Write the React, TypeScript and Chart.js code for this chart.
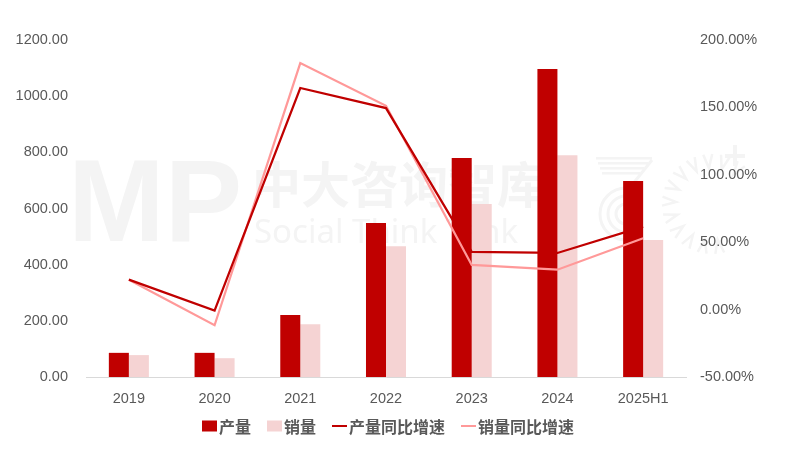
import React, { useEffect, useRef } from 'react';
import { Chart, registerables } from 'chart.js';

Chart.register(...registerables);

const categories = ['2019', '2020', '2021', '2022', '2023', '2024', '2025H1'];
const production = [86, 86, 221, 548, 780, 1097, 698];
const sales = [78, 67, 188, 466, 616, 790, 488];
const productionYoY = [22.2, -0.8, 164.4, 149.5, 42.9, 42.0, 61.5];
const salesYoY = [22.2, -11.6, 182.9, 151.2, 33.1, 29.6, 52.9];
const seriesNames = ['产量', '销量', '产量同比增速', '销量同比增速'];
const leftAxisRange = [0, 1200, 200];
const rightAxisRange = [-50, 200, 50];

const DARK = '#C00000';
const LIGHT = '#F5D3D3';
const PINK = '#FF9999';
const TEXT = '#595959';
const WM = '#F4F4F4';

const watermarkPlugin = {
  id: 'watermark',
  beforeDraw(chart: any) {
    const ctx = chart.ctx;
    ctx.save();
    ctx.fillStyle = WM;
    ctx.textBaseline = 'alphabetic';
    ctx.font = 'bold 116px "Liberation Sans", sans-serif';
    ctx.fillText('MP', 68, 241);
    ctx.font = 'bold 49px "Noto Sans CJK SC"';
    ctx.fillText('中大咨询智库', 252, 203);
    ctx.font = '33px "Noto Sans", sans-serif';
    ctx.fillText('Social Think Tank', 254, 243);
    ctx.fillRect(571, 160, 2, 83);
    for (let i = 0; i < 4; i++) {
      ctx.fillRect(596 + i * 2, 157 + i * 5, 56 - i * 6, 2.5);
    }
    ctx.strokeStyle = WM;
    ctx.lineWidth = 3;
    ctx.beginPath();
    ctx.moveTo(652, 160);
    ctx.lineTo(628, 190);
    ctx.stroke();
    for (const r of [10, 18, 26]) {
      ctx.beginPath();
      ctx.arc(626, 214, r, Math.PI * 0.5, Math.PI * 1.5, false);
      ctx.stroke();
    }
    ctx.lineWidth = 2.5;
    const cx = 712;
    const cy = 204;
    for (let i = 0; i < 12; i++) {
      const a = Math.PI * 0.45 + (i * Math.PI * 1.25) / 11;
      const r1 = 36;
      const r2 = 50;
      const da = 0.09;
      ctx.beginPath();
      ctx.moveTo(cx + Math.cos(a - da) * r2, cy + Math.sin(a - da) * r2);
      ctx.lineTo(cx + Math.cos(a) * r1, cy + Math.sin(a) * r1);
      ctx.lineTo(cx + Math.cos(a + da) * r2, cy + Math.sin(a + da) * r2);
      ctx.stroke();
    }
    ctx.lineWidth = 4;
    ctx.beginPath();
    ctx.moveTo(735, 145);
    ctx.lineTo(735, 166);
    ctx.moveTo(725, 156);
    ctx.lineTo(745, 156);
    ctx.stroke();
    ctx.restore();
  },
};

const legendPlugin = {
  id: 'customLegend',
  afterDraw(chart: any) {
    const ctx = chart.ctx;
    ctx.save();
    ctx.font = 'bold 16px "Noto Sans CJK SC", sans-serif';
    ctx.textBaseline = 'middle';
    const dsets = chart.data.datasets;
    const boxW = 15;
    const gapBox = 2;
    const gapItem = 16;
    const widths = dsets.map((d: any) => boxW + gapBox + ctx.measureText(d.label).width);
    const total = widths.reduce((a: number, b: number) => a + b, 0) + gapItem * (dsets.length - 1);
    const center = (chart.chartArea.left + chart.chartArea.right) / 2 + 2;
    let x = center - total / 2;
    const cy = 426;
    dsets.forEach((d: any, i: number) => {
      if (d.type === 'line') {
        ctx.fillStyle = d.borderColor;
        ctx.fillRect(x, cy - 1, boxW, 2);
      } else {
        ctx.fillStyle = d.backgroundColor;
        ctx.fillRect(x, cy - 5.5, boxW, 11);
      }
      ctx.fillStyle = TEXT;
      ctx.fillText(d.label, x + boxW + gapBox, cy + 1);
      x += widths[i] + gapItem;
    });
    ctx.restore();
  },
};

export default function App() {
  const ref = useRef<HTMLCanvasElement | null>(null);

  useEffect(() => {
    document.body.style.margin = '0';
    if (!ref.current) return;
    const tickFont = { family: '"Liberation Sans", sans-serif', size: 14.5 };
    const chart = new Chart(ref.current, {
      type: 'bar',
      data: {
        labels: categories,
        datasets: [
          {
            type: 'bar',
            label: seriesNames[0],
            data: production,
            backgroundColor: DARK,
            yAxisID: 'y',
            order: 2,
            categoryPercentage: 0.467,
            barPercentage: 1,
          },
          {
            type: 'bar',
            label: seriesNames[1],
            data: sales,
            backgroundColor: LIGHT,
            yAxisID: 'y',
            order: 2,
            categoryPercentage: 0.467,
            barPercentage: 1,
          },
          {
            type: 'line',
            label: seriesNames[2],
            data: productionYoY,
            borderColor: DARK,
            backgroundColor: DARK,
            borderWidth: 2.25,
            pointRadius: 0,
            tension: 0,
            yAxisID: 'y1',
            order: 0,
          },
          {
            type: 'line',
            label: seriesNames[3],
            data: salesYoY,
            borderColor: PINK,
            backgroundColor: PINK,
            borderWidth: 2.25,
            pointRadius: 0,
            tension: 0,
            yAxisID: 'y1',
            order: 1,
          },
        ] as any,
      },
      options: {
        responsive: false,
        animation: false,
        layout: { autoPadding: false, padding: { top: 40, left: 0, right: 0, bottom: 0 } },
        plugins: {
          legend: { display: false },
          tooltip: { enabled: false },
        },
        scales: {
          x: {
            grid: { display: false, drawTicks: false },
            border: { display: true, color: '#D9D9D9', width: 1 },
            ticks: { color: TEXT, font: tickFont, padding: 13 },
            afterFit: (s: any) => {
              s.height = 77;
            },
          },
          y: {
            position: 'left',
            min: leftAxisRange[0],
            max: leftAxisRange[1],
            grid: { display: false, drawTicks: false },
            border: { display: false },
            ticks: {
              stepSize: leftAxisRange[2],
              color: TEXT,
              font: tickFont,
              padding: 18,
              callback: (v: any) => Number(v).toFixed(2),
            },
            afterFit: (s: any) => {
              s.width = 86;
            },
          },
          y1: {
            position: 'right',
            min: rightAxisRange[0],
            max: rightAxisRange[1],
            grid: { display: false, drawTicks: false },
            border: { display: false },
            ticks: {
              stepSize: rightAxisRange[2],
              color: TEXT,
              font: tickFont,
              padding: 14,
              callback: (v: any) => Number(v).toFixed(2) + '%',
            },
            afterFit: (s: any) => {
              s.width = 112;
            },
          },
        },
      } as any,
      plugins: [watermarkPlugin, legendPlugin],
    });
    return () => chart.destroy();
  }, []);

  return (
    <div style={{ width: 798, height: 454, background: '#fff' }}>
      <canvas ref={ref} width={798} height={454} />
    </div>
  );
}
